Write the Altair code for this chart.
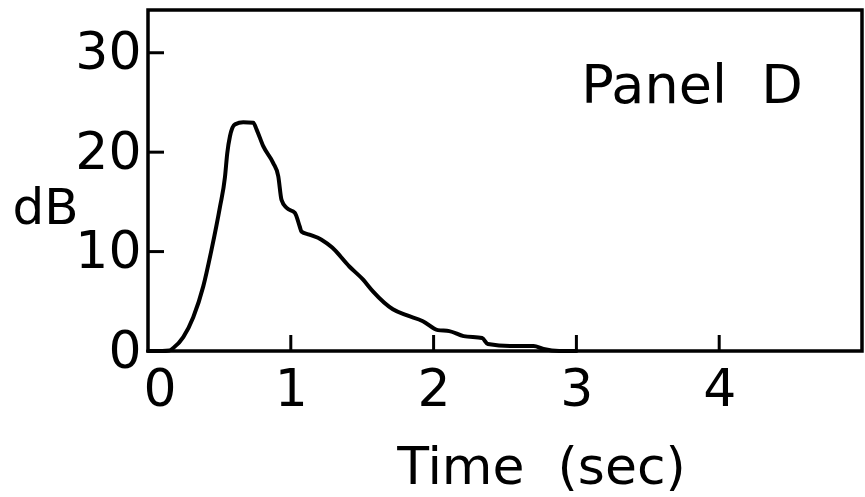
import altair as alt
import pandas as pd

# Decay curve: level (dB) against time (s)
time_s = [0.00, 0.10, 0.15, 0.177, 0.247, 0.317, 0.387, 0.445, 0.504, 0.539,
          0.555, 0.574, 0.609, 0.667, 0.738, 0.76, 0.807, 0.877, 0.912, 0.935,
          0.97, 1.028, 1.063, 1.075, 1.13, 1.215, 1.29, 1.41, 1.505,
          1.575, 1.715, 1.81, 1.925, 2.03, 2.11, 2.21, 2.34, 2.38, 2.535,
          2.70, 2.77, 2.88, 3.00]
level_db = [0.0, 0.0, 0.05, 0.3, 1.4, 3.4, 6.5, 10.2, 14.5, 17.5,
            19.9, 21.6, 22.8, 23.0, 22.95, 22.3, 20.6, 18.9, 17.6, 15.2,
            14.4, 13.9, 12.5, 12.0, 11.7, 11.2, 10.4, 8.5, 7.2,
            6.0, 4.2, 3.6, 3.0, 2.1, 2.0, 1.5, 1.3, 0.7, 0.5,
            0.5, 0.2, 0.0, 0.0]

x_ticks = [0, 1, 2, 3, 4]
y_ticks = [0, 10, 20, 30]
panel_label = "Panel\u00a0\u00a0D"
x_title = "Time\u00a0\u00a0(sec)"

FONT = "DejaVu Sans"
W, H = 714, 341

curve = pd.DataFrame({"t": time_s, "db": level_db})
xt = pd.DataFrame({"t": x_ticks[1:]})
yt = pd.DataFrame({"db": y_ticks[1:]})

x_scale = alt.Scale(domain=[0, 5], nice=False, zero=False)
y_scale = alt.Scale(domain=[0, 34.3], nice=False)

x_axis = alt.Axis(values=x_ticks, format="d", ticks=False, domain=False, grid=False,
                  labelFontSize=52, labelFont=FONT, labelColor="black",
                  labelPadding=13, labelFlush=True, labelFlushOffset=5,
                  title=x_title, titleFont=FONT, titleFontSize=52,
                  titleFontWeight="normal", titleColor="black",
                  titleX=393, titleY=132, titleAlign="center",
                  titleBaseline="alphabetic")
y_axis = alt.Axis(values=y_ticks, format="d", ticks=False, domain=False, grid=False,
                  labelFontSize=52, labelFont=FONT, labelColor="black",
                  labelPadding=7, labelFlush=False, labelBaseline="middle",
                  title="dB", titleFont=FONT, titleFontSize=50,
                  titleFontWeight="normal", titleColor="black",
                  titleAngle=0, titleX=-103, titleY=198,
                  titleAlign="center", titleBaseline="middle")

line = alt.Chart(curve).mark_line(
    color="black", strokeWidth=4, strokeJoin="round", strokeCap="round",
    interpolate="monotone"
).encode(
    x=alt.X("t:Q", scale=x_scale, axis=x_axis),
    y=alt.Y("db:Q", scale=y_scale, axis=y_axis),
)

# inward-pointing tick marks
x_tick_marks = alt.Chart(xt).mark_rule(color="black", strokeWidth=3).encode(
    x=alt.X("t:Q", scale=x_scale),
    y=alt.value(H),
    y2=alt.value(H - 16),
)
y_tick_marks = alt.Chart(yt).mark_rule(color="black", strokeWidth=3).encode(
    y=alt.Y("db:Q", scale=y_scale),
    x=alt.value(0),
    x2=alt.value(16),
)

label = alt.Chart(pd.DataFrame({"txt": [panel_label]})).mark_text(
    font=FONT, fontSize=54, color="black", align="center", baseline="alphabetic"
).encode(
    text="txt:N",
    x=alt.value(544),
    y=alt.value(93),
)

chart = alt.layer(line, x_tick_marks, y_tick_marks, label).properties(
    width=W, height=H,
    autosize=alt.AutoSizeParams(type="none"),
    padding={"left": 148, "top": 10, "right": 3, "bottom": 146},
    background="white",
).configure_view(stroke="black", strokeWidth=3.5)

chart.save("out.html", embed_options={"renderer": "svg", "actions": False})
